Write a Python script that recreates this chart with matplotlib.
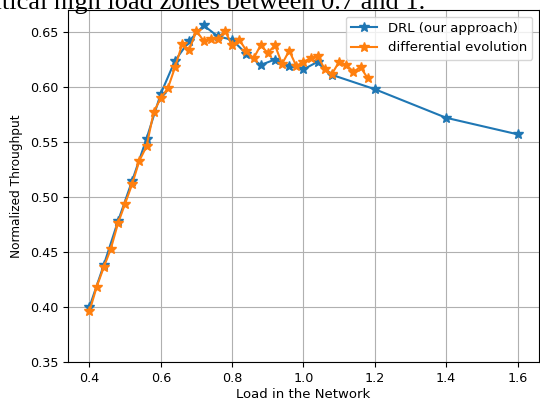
import matplotlib
matplotlib.use("Agg")
import matplotlib.pyplot as plt

# DRL (our approach)
drl_load = [0.40, 0.44, 0.48, 0.52, 0.56, 0.60, 0.64, 0.68, 0.72, 0.76, 0.80,
            0.84, 0.88, 0.92, 0.96, 1.00, 1.04, 1.08, 1.20, 1.40, 1.60]
drl_tput = [0.400, 0.438, 0.478, 0.515, 0.553, 0.594, 0.624, 0.642, 0.656, 0.646, 0.643,
            0.630, 0.620, 0.625, 0.619, 0.616, 0.623, 0.611, 0.598, 0.572, 0.557]

# differential evolution
de_load = [0.40, 0.42, 0.44, 0.46, 0.48, 0.50, 0.52, 0.54, 0.56, 0.58,
           0.60, 0.62, 0.64, 0.66, 0.68, 0.70, 0.72, 0.74, 0.76, 0.78,
           0.80, 0.82, 0.84, 0.86, 0.88, 0.90, 0.92, 0.94, 0.96, 0.98,
           1.00, 1.02, 1.04, 1.06, 1.08, 1.10, 1.12, 1.14, 1.16, 1.18]
de_tput = [0.396, 0.418, 0.436, 0.453, 0.476, 0.494, 0.512, 0.533, 0.546, 0.577,
           0.590, 0.599, 0.618, 0.639, 0.634, 0.651, 0.642, 0.644, 0.644, 0.651,
           0.638, 0.643, 0.633, 0.626, 0.638, 0.631, 0.638, 0.621, 0.633, 0.619,
           0.623, 0.626, 0.628, 0.616, 0.612, 0.623, 0.620, 0.614, 0.618, 0.608]

fig = plt.figure(figsize=(5.4, 4.0), dpi=100)
ax = fig.add_axes([0.126, 0.095, 0.872, 0.88])

ax.plot(drl_load, drl_tput, marker='*', markersize=7, linewidth=1.5,
        color='#1f77b4', label='DRL (our approach)')
ax.plot(de_load, de_tput, marker='*', markersize=7, linewidth=1.5,
        color='#ff7f0e', label='differential evolution')

ax.set_ylim(0.35, 0.67)
ax.tick_params(labelsize=9.2)
ax.set_xlabel('Load in the Network', fontsize=9.5, labelpad=2)
ax.set_ylabel('Normalized Throughput', fontsize=8.7, labelpad=5)
ax.grid(True)
ax.legend(loc='upper right', fontsize=9.5)

# caption text from the page, cut off at the top
fig.text(0.787, 1 - 9.5 / 400, 'critical high load zones between 0.7 and 1.',
         ha='right', va='baseline', fontsize=19, family='Liberation Serif')

fig.savefig('out.png', dpi=100)
